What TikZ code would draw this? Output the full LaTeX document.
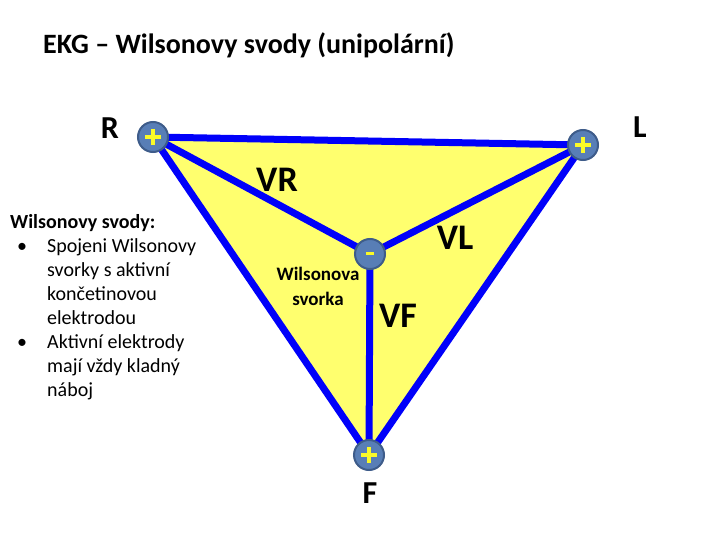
\documentclass[tikz,border=0pt]{standalone}
\usepackage{fontspec}
\setmainfont{Carlito}
\usepackage{tikz}
\usetikzlibrary{positioning}
\definecolor{wireblue}{RGB}{0,0,250}
\definecolor{trifill}{RGB}{255,255,110}
\definecolor{elfill}{RGB}{88,126,182}
\definecolor{eldraw}{RGB}{62,92,138}
\definecolor{signyellow}{RGB}{250,250,40}
\pgfdeclarelayer{background}
\pgfsetlayers{background,main}
\tikzset{
  electrode/.style={circle,minimum size=30pt,inner sep=0pt,fill=elfill,draw=eldraw,line width=2pt},
  pluspole/.style={electrode,path picture={
      \draw[signyellow,line width=4pt] (path picture bounding box.center) ++(-8,0) -- ++(16,0);
      \draw[signyellow,line width=4pt] (path picture bounding box.center) ++(0,-8) -- ++(0,16);}},
  minuspole/.style={electrode,path picture={
      \draw[signyellow,line width=3pt] (path picture bounding box.center) ++(-4,-1) -- ++(8,0);}},
  wire/.style={wireblue,line width=7pt},
  bigname/.style={font=\fontsize{32}{36}\selectfont\bfseries,inner sep=0pt},
  leadname/.style={font=\fontsize{36}{40}\selectfont\bfseries,inner sep=0pt}
}

\begin{document}
\begin{tikzpicture}[x=1pt,y=-1pt]
    \useasboundingbox (0,0) rectangle (720,540);
    % title
    \node[font=\fontsize{28}{32}\selectfont\bfseries,anchor=west,inner sep=0pt] (title) at (43,45)
      {EKG – Wilsonovy svody (unipolární)};
    % electrodes
    \node[pluspole] (R) at (153,137) {};
    \node[pluspole] (L) at (583,145) {};
    \node[pluspole] (F) at (369,455) {};
    \node[minuspole] (C) at (370,254) {};
    % triangle and leads
    \begin{pgfonlayer}{background}
      \fill[trifill] (R.center) -- (L.center) -- (F.center) -- cycle;
      \draw[wire] (R.center) -- (L.center) -- (F.center) -- cycle;
      \draw[wire] (R.center) -- (C.center) -- (L.center);
      \draw[wire] (C.center) -- (F.center);
    \end{pgfonlayer}
    % labels
    \node[bigname] (Rname) at (110,128) {R};
    \node[bigname] (Lname) at (640,127) {L};
    \node[bigname] (Fname) at (370,493) {F};
    \node[leadname] (VR) at (277,180) {VR};
    \node[leadname] (VL) at (455,238) {VL};
    \node[leadname] (VF) at (398,316) {VF};
    \node[font=\fontsize{19}{25}\selectfont\bfseries,align=center,inner sep=0pt] (wsv) at (318,286)
      {Wilsonova\\svorka};
    % explanation
    \node[anchor=north west,inner sep=0pt,font=\fontsize{20}{24}\selectfont] (expl) at (10,211) {%
      \begin{tabular}{@{}p{37pt}@{}l@{}}
        \multicolumn{2}{@{}l@{}}{\textbf{Wilsonovy svody:}}\\
        \hspace{7pt}\textbullet & Spojeni Wilsonovy\\
        & svorky s aktivní\\
        & končetinovou\\
        & elektrodou\\
        \hspace{7pt}\textbullet & Aktivní elektrody\\
        & mají vždy kladný\\
        & náboj
      \end{tabular}};
\end{tikzpicture}
\end{document}
